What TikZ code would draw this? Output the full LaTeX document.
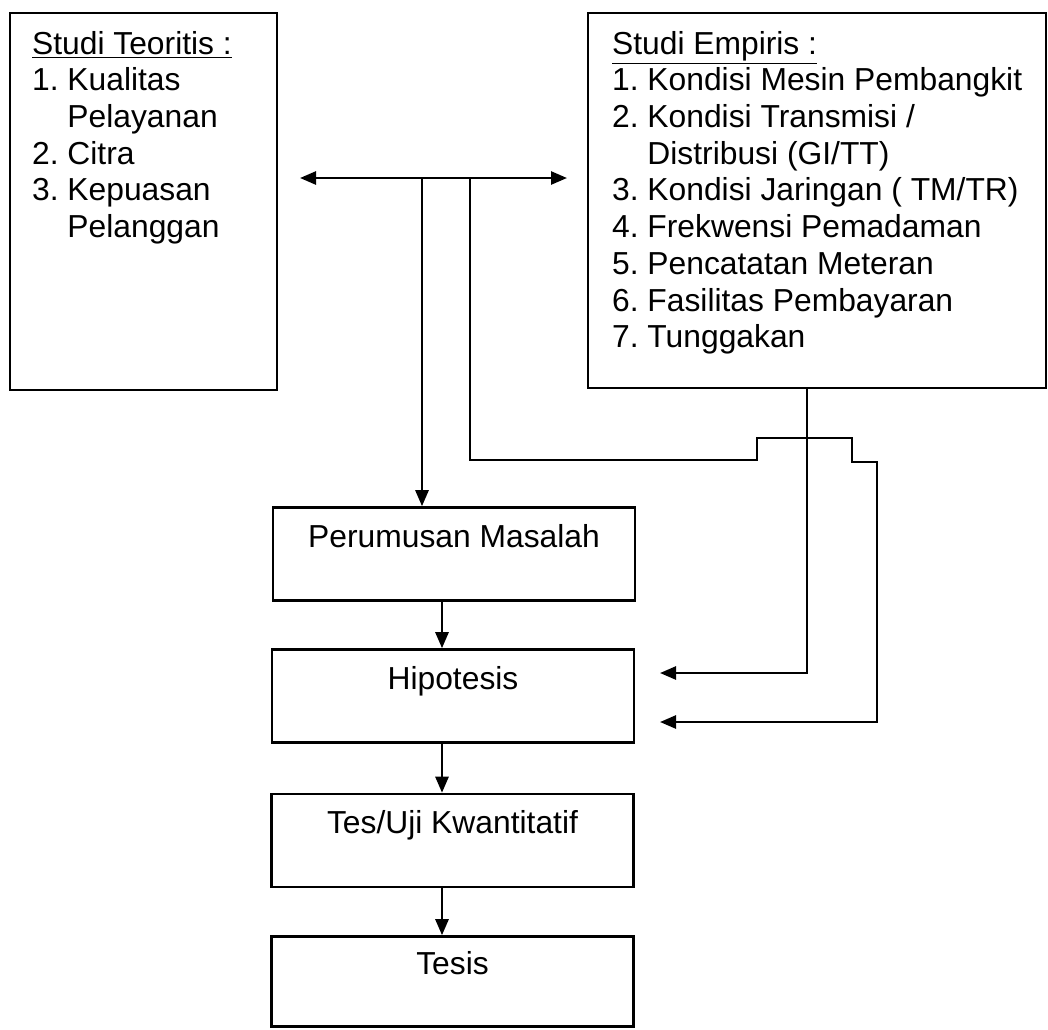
\documentclass[tikz,border=0pt]{standalone}
\usepackage{fontspec}
\setmainfont{Liberation Sans}
\usetikzlibrary{arrows.meta,positioning,calc}
\frenchspacing

\begin{document}
\begin{tikzpicture}[x=0.5pt,y=-0.5pt,
 >={Triangle[length=8pt,width=6.5pt]},
 link/.style={line width=1.3pt},
 arr/.style={link,->},
 panel/.style={draw,line width=1.3pt,inner sep=0pt},
 listtext/.style={inner sep=0pt,align=left,font=\fontsize{15.9}{18.35}\selectfont},
 stage/.style={draw,line width=1.3pt,minimum width=181pt,minimum height=46.5pt,align=center,inner sep=2pt,font=\fontsize{15.9}{18.35}\selectfont}]
\useasboundingbox (0,0) rectangle (1048,1029);

% kajian
\node[panel,minimum width=133.5pt,minimum height=188.5pt] (teori) at (143.5,201.5) {};
\node[listtext,below right=9.5pt and 11.5pt of teori.north west] (teorilist) {\underline{Studi Teoritis :}\\
1. Kualitas\\
\hphantom{1.} Pelayanan\\
2. Citra\\
3. Kepuasan\\
\hphantom{3.} Pelanggan};

\node[panel,minimum width=229pt,minimum height=187.5pt] (empiris) at (817,200.5) {};
\node[listtext,below right=9.5pt and 12.5pt of empiris.north west] (empirislist) {\underline{Studi Empiris :}\\
1. Kondisi Mesin Pembangkit\\
2. Kondisi Transmisi /\\
\hphantom{2.} Distribusi (GI/TT)\\
3. Kondisi Jaringan ( TM/TR)\\
4. Frekwensi Pemadaman\\
5. Pencatatan Meteran\\
6. Fasilitas Pembayaran\\
7. Tunggakan};

% alur
\node[stage] (perumusan) at (454,554) {Perumusan Masalah\\\mbox{}};
\node[stage] (hipotesis) at (453,696) {Hipotesis\\\mbox{}};
\node[stage] (uji) at (452.5,840.5) {Tes/Uji Kwantitatif\\\mbox{}};
\node[stage,minimum height=45pt] (tesis) at (452.5,981.5) {Tesis\\\mbox{}};

\coordinate (tl) at (300,178);
\coordinate (tr) at (567,178);
\coordinate (j1) at (422,178);
\coordinate (j2) at (470,178);
\coordinate (spine) at (442,0);
\coordinate (h1) at (660,673);
\coordinate (h2) at (660,722);

\draw[link,<->] (tl) -- (tr);
\draw[arr] (j1) -- (j1 |- perumusan.north);
\draw[arr] (j2) |- (757,460) |- (852,438) |- (877,462) |- (h2);
\draw[arr] ([xshift=-5pt]empiris.south) |- (h1);

\draw[arr] (spine |- perumusan.south) -- (spine |- hipotesis.north);
\draw[arr] (spine |- hipotesis.south) -- (spine |- uji.north);
\draw[arr] (spine |- uji.south) -- (spine |- tesis.north);
\end{tikzpicture}
\end{document}
